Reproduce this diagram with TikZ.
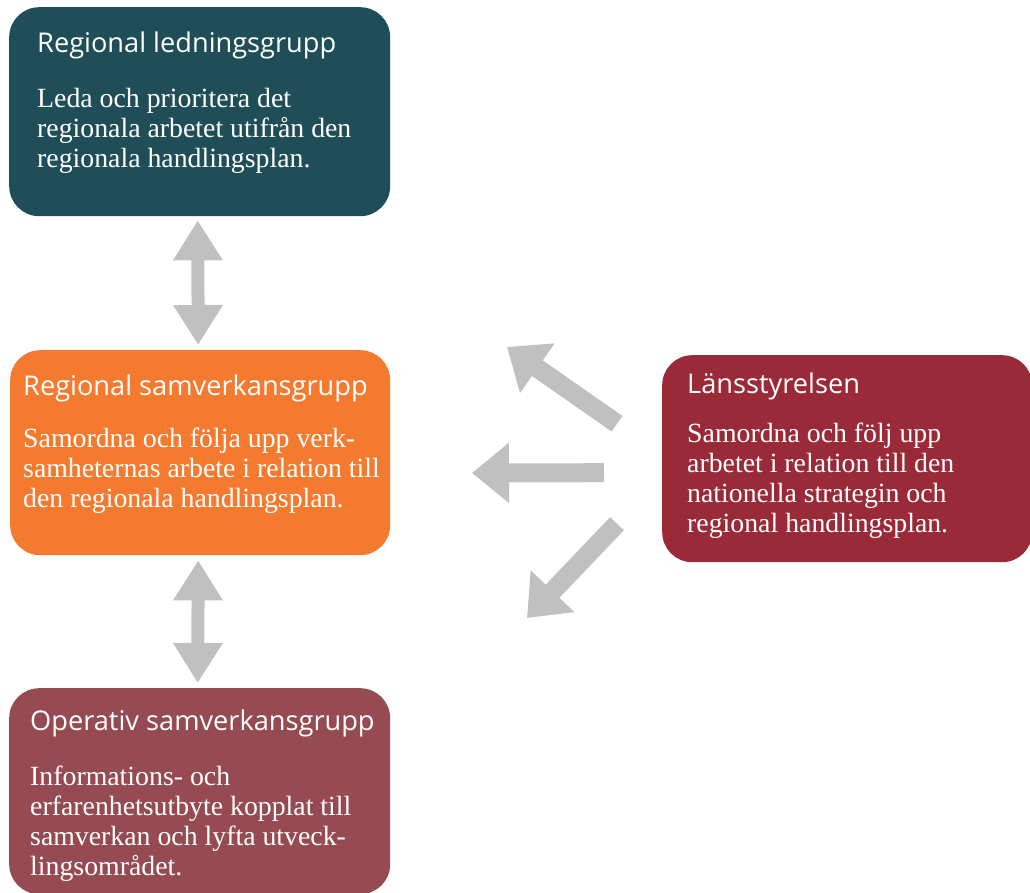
\documentclass[tikz,border=0pt]{standalone}
\usepackage{fontspec}
\setmainfont{Liberation Serif}
\newfontfamily\rubrikfont{Open Sans}
\usetikzlibrary{arrows.meta,positioning,calc}

\definecolor{ledfarg}{HTML}{1F4E59}
\definecolor{samfarg}{HTML}{F47A30}
\definecolor{opfarg}{HTML}{964A51}
\definecolor{lansfarg}{HTML}{9B2A38}
\definecolor{pilfarg}{HTML}{BFC0BF}

\begin{document}
\begin{tikzpicture}[
    x=1pt, y=-1pt,
    box/.style={
        rounded corners=30pt,
        anchor=north west,
        inner sep=0pt
    },
    rubrik/.style={anchor=base west, text=white, inner sep=0pt,
        font=\rubrikfont\fontsize{27.2}{30}\selectfont},
    % base-ankaret ligger på sista radens baslinje
    brodtext/.style={anchor=base west, text=white, inner sep=0pt, align=left,
        font=\fontsize{27.8}{30}\selectfont},
    dubbelpil/.style={{Triangle[width=47pt,length=40pt]}-{Triangle[width=47pt,length=40pt]},
        line width=13pt, draw=pilfarg},
    pil/.style={-{Triangle[width=58pt,length=37pt]}, line width=19pt, draw=pilfarg}
]
\useasboundingbox (0,0) rectangle (1030,893);

% grupperna
\node[box, fill=ledfarg, minimum width=381pt, minimum height=209pt] (led) at (9,7) {};
\node[rubrik] (ledrubrik) at ($(led.north west)+(28,46)$) {Regional ledningsgrupp};
\node[brodtext] (ledtext) at ($(led.north west)+(28,161)$)
    {Leda och prioritera det\\regionala arbetet utifrån den\\regionala handlingsplan.};

\node[box, fill=samfarg, minimum width=380pt, minimum height=205pt] (sam) at (10,350) {};
\node[rubrik] (samrubrik) at ($(sam.north west)+(13,45)$) {Regional samverkansgrupp};
\node[brodtext] (samtext) at ($(sam.north west)+(13,157)$)
    {Samordna och följa upp verk-\\samheternas arbete i relation till\\den regionala handlingsplan.};

\node[box, fill=opfarg, minimum width=381pt, minimum height=206pt] (op) at (9,688) {};
\node[rubrik] (oprubrik) at ($(op.north west)+(21,42)$) {Operativ samverkansgrupp};
\node[brodtext] (optext) at ($(op.north west)+(21,187)$)
    {Informations- och\\erfarenhetsutbyte kopplat till\\samverkan och lyfta utveck-\\lingsområdet.};

\node[box, fill=lansfarg, minimum width=370pt, minimum height=207pt] (lans) at (662,355) {};
\node[rubrik] (lansrubrik) at ($(lans.north west)+(25,38)$) {Länsstyrelsen};
\node[brodtext] (lanstext) at ($(lans.north west)+(25,177)$)
    {Samordna och följ upp\\arbetet i relation till den\\nationella strategin och\\regional handlingsplan.};

% pilar
\draw[dubbelpil, shorten <=4pt, shorten >=5pt] ([xshift=-2pt]led.south) -- ([xshift=-2pt]sam.north);
\draw[dubbelpil, shorten <=5pt, shorten >=5pt] ([xshift=-2pt]sam.south) -- ([xshift=-2pt]op.north);

\coordinate (pilupp) at (507,347);
\coordinate (pilvanster) at (472,473);
\coordinate (pilned) at (527,618);
\draw[pil] ($(lans.west)+(-45,-35)$) -- (pilupp);
\draw[pil] ($(lans.west)+(-58,14)$) -- (pilvanster);
\draw[pil] ($(lans.west)+(-45,65)$) -- (pilned);
\end{tikzpicture}
\end{document}
